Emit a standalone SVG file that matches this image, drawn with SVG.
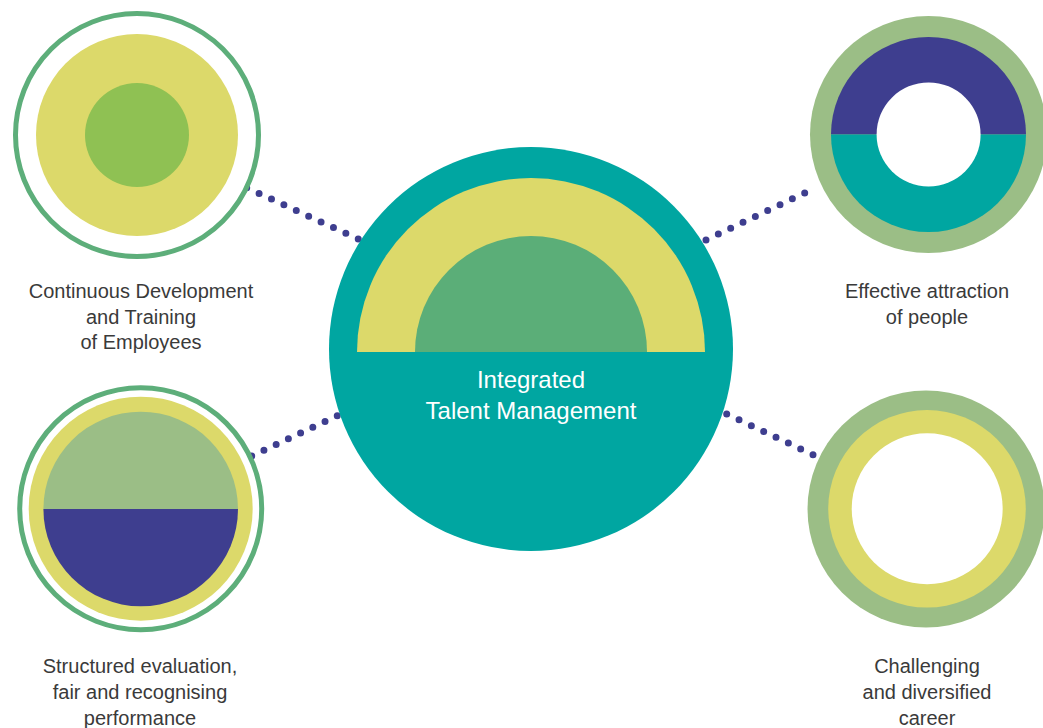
<svg xmlns="http://www.w3.org/2000/svg" width="1043" height="728" viewBox="0 0 1043 728">
<style>
.dots{fill:none;stroke:#3E3E8F;stroke-width:7;stroke-linecap:round}
.lbl{font-family:"Liberation Sans",Arial,sans-serif;font-size:20px;fill:#3a3a3a;text-anchor:middle}
.ctr{font-family:"Liberation Sans",Arial,sans-serif;font-size:24px;fill:#ffffff;text-anchor:middle}
.ring{fill:#ffffff;stroke:#5DAE7A;stroke-width:5}
.yel{fill:#DCD96A}
.lg{fill:#9BBE86}
.navy{fill:#3E3E8F}
.teal{fill:#00A6A1}
.wh{fill:#ffffff}
</style>
<rect width="1043" height="728" fill="#ffffff"/>
<g id="connectors">
<line class="dots" x1="246.7" y1="187.7" x2="358.3" y2="239" stroke-dasharray="0 13.64"/>
<line class="dots" x1="706" y1="240" x2="817" y2="187" stroke-dasharray="0 13.67"/>
<line class="dots" x1="251.7" y1="456" x2="337.3" y2="415.7" stroke-dasharray="0 13.51"/>
<line class="dots" x1="726.7" y1="414" x2="813" y2="454.7" stroke-dasharray="0 13.63"/>
</g>
<g id="node-center">
<circle class="teal" cx="531" cy="349" r="202"/>
<path class="yel" d="M357 352 A174 174 0 0 1 705 352 Z"/>
<path fill="#5BAE78" d="M415 352 A116 116 0 0 1 647 352 Z"/>
<text class="ctr" x="531" y="388">Integrated</text>
<text class="ctr" x="531" y="419">Talent Management</text>
</g>
<g id="node-development">
<circle class="ring" cx="137" cy="135" r="121.5"/>
<circle class="yel" cx="137" cy="135" r="101"/>
<circle fill="#8FC153" cx="137" cy="135" r="52"/>
<text class="lbl" x="141" y="298">Continuous Development</text>
<text class="lbl" x="141" y="323.5">and Training</text>
<text class="lbl" x="141" y="349">of Employees</text>
</g>
<g id="node-attraction">
<circle class="lg" cx="928.5" cy="134.5" r="118.5"/>
<path class="navy" d="M831 134.5 A97.5 97.5 0 0 1 1026 134.5 Z"/>
<path class="teal" d="M831 134.5 A97.5 97.5 0 0 0 1026 134.5 Z"/>
<circle class="wh" cx="928.6" cy="134.4" r="52"/>
<text class="lbl" x="927" y="298">Effective attraction</text>
<text class="lbl" x="927" y="323.5">of people</text>
</g>
<g id="node-evaluation">
<circle class="ring" cx="140.7" cy="508.7" r="121"/>
<circle class="yel" cx="140.7" cy="508.7" r="112"/>
<path class="lg" d="M43.4 509 A97.3 97.3 0 0 1 238 509 Z"/>
<path class="navy" d="M43.4 509 A97.3 97.3 0 0 0 238 509 Z"/>
<text class="lbl" x="140" y="673">Structured evaluation,</text>
<text class="lbl" x="140" y="699">fair and recognising</text>
<text class="lbl" x="140" y="725">performance</text>
</g>
<g id="node-career">
<circle class="lg" cx="926" cy="509" r="118.5"/>
<circle class="yel" cx="927" cy="508.8" r="98.8"/>
<circle class="wh" cx="927.2" cy="508.8" r="75.5"/>
<text class="lbl" x="927" y="673">Challenging</text>
<text class="lbl" x="927" y="699">and diversified</text>
<text class="lbl" x="927" y="725">career</text>
</g>
</svg>
